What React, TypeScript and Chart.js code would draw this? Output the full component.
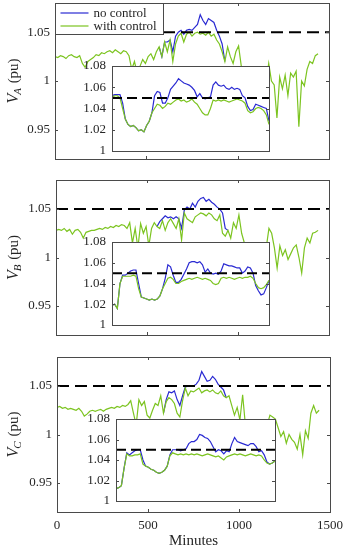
import React, { useEffect, useRef } from "react";
import { Chart, registerables } from "chart.js";

Chart.register(...registerables);

// ---------- data ----------
const STEP = 15; // minutes between samples
const xTickValues = [0, 500, 1000, 1500];
const yTickMain = [0.95, 1, 1.05];
const yTickInset = [1, 1.02, 1.04, 1.06, 1.08];
const LIMIT = 1.05;

const withControlA = [
  1.025, 1.024, 1.026, 1.025, 1.023, 1.026, 1.027, 1.025, 1.024, 1.026,
  1.018, 1.014, 1.020, 1.022,
  1.024, 1.027, 1.026, 1.029, 1.028, 1.030, 1.031, 1.029, 1.032, 1.030, 1.028, 1.031, 1.030, 1.026,
  1.012, 1.020, 1.008, 1.015, 1.022, 1.018, 1.025, 1.028, 1.022,
  1.030, 1.035, 1.025, 1.040, 1.030, 1.042, 1.020, 1.038, 1.046, 1.049,
  1.040, 1.048, 1.050, 1.046, 1.049, 1.050, 1.048, 1.049, 1.047, 1.050, 1.046, 1.048,
  1.042, 1.038, 1.030, 1.020, 1.035, 1.025, 1.018, 1.030, 1.036, 1.015,
  1.012, 1.005, 1.010, 0.998, 1.005, 1.000, 0.995, 1.002, 0.998,
  1.018, 1.000, 0.996, 0.962, 1.004, 0.992, 1.006, 0.985, 1.008, 1.004, 1.010, 0.953, 1.000, 0.995, 1.012, 1.020, 1.018, 1.026, 1.028,
];
const noControlAStart = 570;
const noControlA = [
  1.035, 1.025, 1.040, 1.040, 1.042, 1.030, 1.046, 1.050, 1.052, 1.048, 1.052, 1.053, 1.052,
  1.055, 1.058, 1.068, 1.062, 1.058, 1.064, 1.062, 1.060, 1.052, 1.046, 1.038, 1.020,
];

const withControlB = [
  1.028, 1.029, 1.028, 1.030, 1.027, 1.029, 1.024, 1.028, 1.029, 1.026,
  1.020, 1.026, 1.027, 1.028,
  1.028, 1.029, 1.030, 1.029, 1.031, 1.030, 1.032, 1.031, 1.033, 1.032, 1.034, 1.033, 1.030, 1.036,
  1.015, 1.030, 1.010, 1.035, 1.025, 1.032, 1.012, 1.030, 1.036,
  1.032, 1.030, 1.038, 1.028, 1.036, 1.040, 1.035, 1.030, 1.040, 1.018,
  1.046, 1.040, 1.038, 1.036, 1.042, 1.044, 1.046, 1.045, 1.043, 1.046, 1.044, 1.040,
  1.038, 1.044, 1.025, 1.022, 1.028, 1.020, 1.036, 1.030, 1.044, 1.025,
  1.015, 1.010, 1.005, 1.008, 1.002, 1.006, 1.000, 1.004, 1.010,
  1.030, 1.025, 1.010, 0.989, 1.012, 1.002, 1.008, 0.998, 1.004, 1.010, 1.013, 1.000, 0.984, 1.010, 1.020, 1.015, 1.025, 1.026, 1.028,
];
const noControlBStart = 555;
const noControlB = [
  1.032, 1.037, 1.040, 1.043, 1.041, 1.042, 1.040, 1.042, 1.040, 1.030, 1.049, 1.052, 1.050, 1.056,
  1.052, 1.058, 1.061, 1.062, 1.058, 1.060, 1.057, 1.055, 1.052, 1.050, 1.046, 1.030, 1.028,
];

const withControlC = [
  1.028, 1.029, 1.027, 1.028, 1.026, 1.027, 1.026, 1.025, 1.027, 1.024,
  1.019, 1.021, 1.024, 1.025,
  1.024, 1.025, 1.026, 1.024, 1.026, 1.027, 1.028, 1.027, 1.029, 1.028, 1.030, 1.029, 1.031, 1.035,
  1.022, 1.010, 1.036, 1.030, 1.034, 1.020, 1.017, 1.025, 1.032,
  1.030, 1.040, 1.022, 1.034, 1.038, 1.036, 1.032, 1.022, 1.018, 1.035,
  1.048, 1.040, 1.045, 1.044, 1.046, 1.048, 1.043, 1.045, 1.046, 1.044, 1.046, 1.043,
  1.042, 1.045, 1.040, 1.038, 1.040, 1.030, 1.020, 1.028, 1.015, 1.041,
  1.010, 1.005, 1.012, 1.008, 1.003, 1.006, 1.000, 1.004, 1.010,
  1.020, 1.018, 1.016, 1.007, 0.998, 1.003, 0.991, 1.000, 0.995, 0.992, 0.985, 1.000, 0.979, 1.004, 0.996, 1.022, 1.030, 1.022, 1.025,
];
const noControlCStart = 585;
const noControlC = [
  1.022, 1.036, 1.044, 1.043, 1.045, 1.036, 1.030, 1.040, 1.049, 1.050, 1.050, 1.050,
  1.052, 1.056, 1.065, 1.060, 1.055, 1.056, 1.060, 1.057, 1.052, 1.049, 1.046, 1.038,
];

// insets (zoomed window, sample index)
const insetWithA = [
  1.050, 1.052, 1.052, 1.050, 1.040, 1.030, 1.025, 1.023, 1.024, 1.022,
  1.019, 1.020, 1.018, 1.024, 1.028, 1.036, 1.040, 1.044, 1.043, 1.040,
  1.042, 1.045, 1.044, 1.046, 1.048, 1.049, 1.047, 1.048, 1.046, 1.047,
  1.049, 1.046, 1.044, 1.040, 1.036, 1.034, 1.034, 1.040, 1.048, 1.047,
  1.048, 1.047, 1.048, 1.047, 1.046, 1.047, 1.048, 1.049, 1.048, 1.047,
  1.045, 1.038, 1.036, 1.037, 1.040, 1.041, 1.040, 1.038, 1.034, 1.025,
];
const insetNoA = [
  1.052, 1.053, 1.053, 1.053, 1.045, 1.030, 1.025, 1.023, 1.024, 1.022,
  1.019, 1.020, 1.018, 1.024, 1.028, 1.036, 1.052, 1.056, 1.055, 1.045,
  1.045, 1.050, 1.058, 1.061, 1.064, 1.068, 1.066, 1.064, 1.063, 1.062,
  1.060, 1.057, 1.051, 1.054, 1.050, 1.049, 1.050, 1.051, 1.062, 1.065,
  1.062, 1.061, 1.062, 1.059, 1.058, 1.060, 1.058, 1.059, 1.058, 1.052,
  1.050, 1.042, 1.038, 1.039, 1.044, 1.043, 1.042, 1.041, 1.040, 1.028,
];
const insetWithB = [
  1.019, 1.020, 1.016, 1.040, 1.047, 1.047, 1.047, 1.047, 1.048, 1.047,
  1.035, 1.027, 1.026, 1.025, 1.024, 1.025, 1.024, 1.025, 1.028, 1.035,
  1.040, 1.045, 1.046, 1.044, 1.040, 1.040, 1.042, 1.043, 1.044, 1.045,
  1.044, 1.045, 1.046, 1.045, 1.044, 1.045, 1.044, 1.043, 1.040, 1.039,
  1.040, 1.045, 1.046, 1.045, 1.046, 1.045, 1.044, 1.045, 1.046, 1.045,
  1.046, 1.046, 1.047, 1.045, 1.040, 1.036, 1.035, 1.036, 1.039, 1.043,
];
const insetNoB = [
  1.019, 1.020, 1.016, 1.040, 1.048, 1.048, 1.050, 1.052, 1.053, 1.053,
  1.040, 1.027, 1.026, 1.025, 1.024, 1.025, 1.024, 1.025, 1.028, 1.035,
  1.045, 1.058, 1.056, 1.048, 1.041, 1.041, 1.044, 1.049, 1.054, 1.060,
  1.061, 1.061, 1.060, 1.061, 1.058, 1.051, 1.054, 1.050, 1.049, 1.050,
  1.049, 1.052, 1.059, 1.058, 1.057, 1.057, 1.056, 1.055, 1.055, 1.050,
  1.052, 1.056, 1.055, 1.050, 1.038, 1.033, 1.029, 1.030, 1.036, 1.043,
];
const insetWithC = [
  1.012, 1.013, 1.015, 1.032, 1.046, 1.044, 1.044, 1.045, 1.045, 1.046,
  1.036, 1.034, 1.033, 1.031, 1.030, 1.028, 1.027, 1.028, 1.030, 1.034,
  1.044, 1.047, 1.046, 1.045, 1.046, 1.045, 1.046, 1.045, 1.046, 1.045,
  1.046, 1.045, 1.044, 1.045, 1.046, 1.045, 1.044, 1.043, 1.044, 1.042,
  1.040, 1.043, 1.044, 1.045, 1.046, 1.045, 1.046, 1.045, 1.044, 1.045,
  1.046, 1.045, 1.044, 1.045, 1.044, 1.040, 1.037, 1.036, 1.037, 1.039,
];
const insetNoC = [
  1.012, 1.013, 1.015, 1.032, 1.047, 1.045, 1.047, 1.049, 1.050, 1.050,
  1.040, 1.034, 1.033, 1.031, 1.030, 1.028, 1.027, 1.028, 1.030, 1.034,
  1.045, 1.050, 1.050, 1.050, 1.049, 1.050, 1.051, 1.056, 1.058, 1.058,
  1.060, 1.065, 1.064, 1.062, 1.061, 1.058, 1.053, 1.048, 1.050, 1.049,
  1.046, 1.049, 1.048, 1.056, 1.062, 1.058, 1.057, 1.056, 1.055, 1.054,
  1.056, 1.056, 1.053, 1.048, 1.049, 1.045, 1.038, 1.036, 1.037, 1.039,
];

const legendLabels = ["no control", "with control"];

// ---------- style ----------
const FONT = "'Liberation Serif', 'Times New Roman', serif";
const BLUE = "#2a2ad2";
const GREEN = "#7cc420";
const AXIS = "#4a4a4a";
const TEXT = "#262626";
const W = 347;

const fmt = (v: number) => String(Number(Number(v).toFixed(2)));

function drawYTitle(ctx: CanvasRenderingContext2D, sub: string, cy: number) {
  ctx.save();
  ctx.translate(18, cy);
  ctx.rotate(-Math.PI / 2);
  ctx.fillStyle = TEXT;
  ctx.textBaseline = "alphabetic";
  const fV = `italic 16px ${FONT}`;
  const fS = `italic 11px ${FONT}`;
  const fP = `15px ${FONT}`;
  ctx.font = fV;
  const wV = ctx.measureText("V").width;
  ctx.font = fS;
  const wS = ctx.measureText(sub).width;
  ctx.font = fP;
  const wP = ctx.measureText(" (pu)").width;
  let x = -(wV + wS + wP) / 2;
  ctx.font = fV;
  ctx.fillText("V", x, 0);
  x += wV;
  ctx.font = fS;
  ctx.fillText(sub, x - 1, 3);
  x += wS;
  ctx.font = fP;
  ctx.fillText(" (pu)", x, 0);
  ctx.restore();
}

const framePlugin = {
  id: "frame",
  beforeDatasetsDraw(chart: any, _a: any, o: any) {
    if (o.white) {
      const a = chart.chartArea;
      const ctx = chart.ctx;
      ctx.save();
      ctx.fillStyle = "#fff";
      ctx.fillRect(a.left, a.top, a.right - a.left, a.bottom - a.top);
      ctx.restore();
    }
  },
  afterDraw(chart: any, _a: any, o: any) {
    const ctx: CanvasRenderingContext2D = chart.ctx;
    const a = chart.chartArea;
    const xs = chart.scales.x;
    const ys = chart.scales.y;
    ctx.save();
    ctx.strokeStyle = AXIS;
    ctx.lineWidth = 1;
    ctx.beginPath();
    for (const v of o.yTicks || []) {
      const y = Math.round(ys.getPixelForValue(v)) + 0.5;
      ctx.moveTo(a.left, y);
      ctx.lineTo(a.left + 3, y);
      ctx.moveTo(a.right, y);
      ctx.lineTo(a.right - 3, y);
    }
    for (const v of o.xTicks || []) {
      const x = Math.round(xs.getPixelForValue(v)) + 0.5;
      ctx.moveTo(x, a.top);
      ctx.lineTo(x, a.top + 3);
      ctx.moveTo(x, a.bottom);
      ctx.lineTo(x, a.bottom - 3);
    }
    ctx.stroke();
    ctx.strokeRect(
      Math.round(a.left) + 0.5,
      Math.round(a.top) + 0.5,
      Math.round(a.right - a.left),
      Math.round(a.bottom - a.top)
    );

    if (o.legend) {
      const lx = Math.round(a.left) + 0.5;
      const ly = Math.round(a.top) + 0.5;
      const lw = 108;
      const lh = 31;
      ctx.fillStyle = "#fff";
      ctx.fillRect(lx, ly, lw, lh);
      ctx.strokeRect(lx, ly, lw, lh);
      const rows = [
        { label: legendLabels[0], color: BLUE, y: ly + 9.5 },
        { label: legendLabels[1], color: GREEN, y: ly + 22.5 },
      ];
      ctx.font = `13px ${FONT}`;
      ctx.textBaseline = "middle";
      ctx.textAlign = "left";
      for (const r of rows) {
        ctx.strokeStyle = r.color;
        ctx.lineWidth = 1.2;
        ctx.beginPath();
        ctx.moveTo(lx + 5, r.y);
        ctx.lineTo(lx + 33, r.y);
        ctx.stroke();
        ctx.fillStyle = TEXT;
        ctx.fillText(r.label, lx + 38, r.y + 0.5);
      }
    }
    if (o.sub) {
      drawYTitle(ctx, o.sub, (a.top + a.bottom) / 2);
    }
    if (o.minutes) {
      ctx.fillStyle = TEXT;
      ctx.font = `15px ${FONT}`;
      ctx.textAlign = "center";
      ctx.textBaseline = "middle";
      ctx.fillText("Minutes", (a.left + a.right) / 2, a.bottom + 29);
    }
    ctx.restore();
  },
};

const noPad = (s: any) => {
  s.paddingTop = 0;
  s.paddingBottom = 0;
  s.paddingLeft = 0;
  s.paddingRight = 0;
};

type Spec = {
  L: number; R: number; T: number; B: number;
  green: number[]; blue: number[]; blueStart: number;
  sub: string; showX: boolean; legend: boolean;
};

const mainSpecs: Spec[] = [
  { L: 55, R: 329, T: 3, B: 159, green: withControlA, blue: noControlA, blueStart: noControlAStart, sub: "A", showX: false, legend: true },
  { L: 56, R: 329, T: 180, B: 335, green: withControlB, blue: noControlB, blueStart: noControlBStart, sub: "B", showX: false, legend: false },
  { L: 57, R: 330, T: 357, B: 512, green: withControlC, blue: noControlC, blueStart: noControlCStart, sub: "C", showX: true, legend: false },
];

type ISpec = { L: number; R: number; T: number; B: number; green: number[]; blue: number[] };
const insetSpecs: ISpec[] = [
  { L: 112, R: 269, T: 66, B: 151, green: insetWithA, blue: insetNoA },
  { L: 112, R: 269, T: 242, B: 325, green: insetWithB, blue: insetNoB },
  { L: 116, R: 275, T: 419, B: 501, green: insetWithC, blue: insetNoC },
];

function mainLayout(p: Spec) {
  const padTop = Math.min(p.T, 4);
  const xH = p.showX ? 36 : 0;
  const padBottom = p.showX ? 0 : 4;
  return {
    top: p.T - padTop,
    left: 0,
    width: W,
    height: p.B - p.T + padTop + padBottom + xH,
    padTop, padBottom, xH,
  };
}

function mainConfig(p: Spec): any {
  const lay = mainLayout(p);
  const greenPts = p.green.map((y, i) => ({ x: i * STEP, y }));
  const bluePts = p.blue.map((y, i) => ({ x: p.blueStart + i * STEP, y }));
  return {
    type: "line",
    data: {
      datasets: [
        { data: [{ x: 0, y: LIMIT }, { x: 1500, y: LIMIT }], borderColor: "#000", borderWidth: 2, borderDash: [12, 6], pointRadius: 0, order: 0 },
        { label: legendLabels[1], data: greenPts, borderColor: GREEN, borderWidth: 1.2, pointRadius: 0, order: 1 },
        { label: legendLabels[0], data: bluePts, borderColor: BLUE, borderWidth: 1.2, pointRadius: 0, order: 2 },
      ],
    },
    options: {
      animation: false,
      responsive: false,
      devicePixelRatio: 1,
      events: [],
      layout: { padding: { top: lay.padTop, bottom: lay.padBottom, left: 0, right: W - p.R } },
      plugins: {
        legend: { display: false },
        tooltip: { enabled: false },
        frame: { yTicks: yTickMain, xTicks: [500, 1000], legend: p.legend, sub: p.sub, minutes: p.showX },
      },
      scales: {
        x: {
          type: "linear", min: 0, max: 1500, display: p.showX,
          afterBuildTicks: (s: any) => { s.ticks = xTickValues.map((v) => ({ value: v })); },
          afterFit: (s: any) => { s.height = lay.xH; noPad(s); },
          grid: { display: false, drawTicks: false },
          border: { display: false },
          ticks: { padding: 6, maxRotation: 0, autoSkip: false, color: TEXT, font: { family: FONT, size: 13 }, callback: (v: any) => String(v) },
        },
        y: {
          type: "linear", min: 0.92, max: 1.08,
          afterBuildTicks: (s: any) => { s.ticks = yTickMain.map((v) => ({ value: v })); },
          afterFit: (s: any) => { s.width = p.L; noPad(s); },
          grid: { display: false, drawTicks: false },
          border: { display: false },
          ticks: { padding: 5, color: TEXT, font: { family: FONT, size: 13 }, callback: (v: any) => fmt(v) },
        },
      },
    },
    plugins: [framePlugin],
  };
}

const INSET_LABEL_W = 36;
function insetLayout(p: ISpec) {
  return {
    left: p.L - INSET_LABEL_W,
    top: p.T - 8,
    width: p.R - p.L + INSET_LABEL_W + 2,
    height: p.B - p.T + 16,
  };
}

function insetConfig(p: ISpec): any {
  const n = p.green.length - 1;
  return {
    type: "line",
    data: {
      datasets: [
        { data: [{ x: 0, y: LIMIT }, { x: n, y: LIMIT }], borderColor: "#000", borderWidth: 2, borderDash: [10, 5], pointRadius: 0, order: 0 },
        { label: legendLabels[1], data: p.green.map((y, i) => ({ x: i, y })), borderColor: GREEN, borderWidth: 1.2, pointRadius: 0, order: 1 },
        { label: legendLabels[0], data: p.blue.map((y, i) => ({ x: i, y })), borderColor: BLUE, borderWidth: 1.2, pointRadius: 0, order: 2 },
      ],
    },
    options: {
      animation: false,
      responsive: false,
      devicePixelRatio: 1,
      events: [],
      layout: { padding: { top: 8, bottom: 8, left: 0, right: 2 } },
      plugins: {
        legend: { display: false },
        tooltip: { enabled: false },
        frame: { white: true, yTicks: [1.02, 1.04, 1.06] },
      },
      scales: {
        x: { type: "linear", min: 0, max: n, display: false },
        y: {
          type: "linear", min: 1, max: 1.08,
          afterBuildTicks: (s: any) => { s.ticks = yTickInset.map((v) => ({ value: v })); },
          afterFit: (s: any) => { s.width = INSET_LABEL_W; noPad(s); },
          grid: { display: false, drawTicks: false },
          border: { display: false },
          ticks: { padding: 6, color: TEXT, font: { family: FONT, size: 13 }, callback: (v: any) => fmt(v) },
        },
      },
    },
    plugins: [framePlugin],
  };
}

function ChartCanvas(props: { make: () => any; left: number; top: number; width: number; height: number }) {
  const ref = useRef<HTMLCanvasElement>(null);
  useEffect(() => {
    const chart = new Chart(ref.current as HTMLCanvasElement, props.make());
    return () => chart.destroy();
  }, []);
  return (
    <canvas
      ref={ref}
      width={props.width}
      height={props.height}
      style={{ position: "absolute", left: props.left, top: props.top, width: props.width, height: props.height }}
    />
  );
}

export default function App() {
  return (
    <div style={{ position: "absolute", left: 0, top: 0, width: W, height: 550, overflow: "hidden", background: "#fff" }}>
      {mainSpecs.map((p, i) => {
        const l = mainLayout(p);
        return <ChartCanvas key={"m" + i} make={() => mainConfig(p)} left={l.left} top={l.top} width={l.width} height={l.height} />;
      })}
      {insetSpecs.map((p, i) => {
        const l = insetLayout(p);
        return <ChartCanvas key={"i" + i} make={() => insetConfig(p)} left={l.left} top={l.top} width={l.width} height={l.height} />;
      })}
    </div>
  );
}
